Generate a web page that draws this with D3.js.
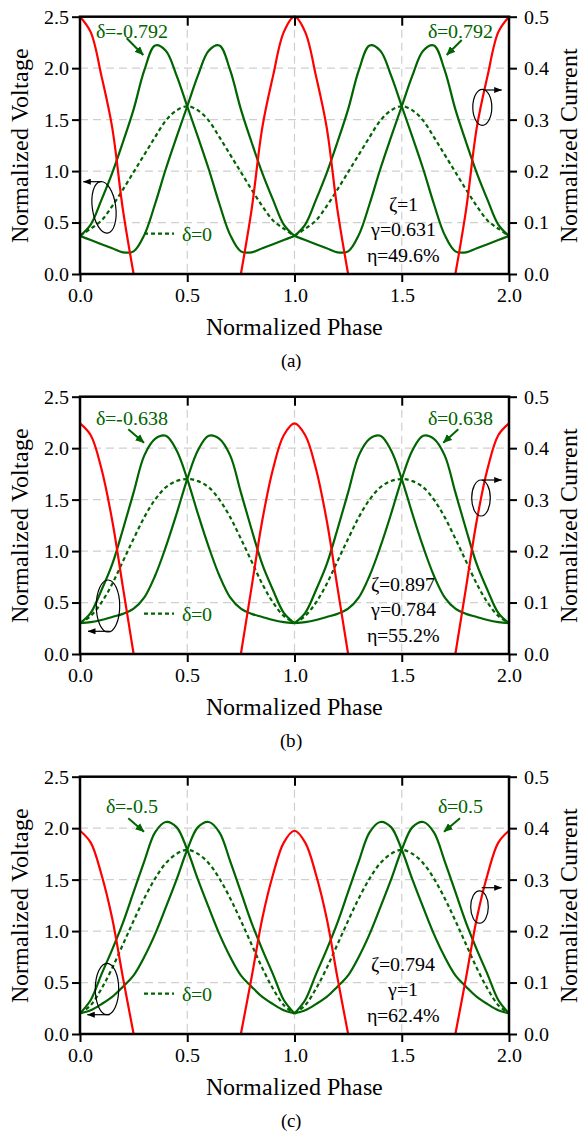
<!DOCTYPE html>
<html><head><meta charset="utf-8">
<script src="https://cdn.jsdelivr.net/npm/d3@7"></script>
<style>
@font-face{font-family:"RefSerif";src:local("Liberation Serif"),local("LiberationSerif"),local("LiberationSerif-Regular"),local("Times New Roman"),local("TimesNewRomanPSMT"),local("Tinos"),local("Tinos-Regular"),local("DejaVu Serif"),local("DejaVuSerif"),local("Noto Serif"),local("NotoSerif-Regular"),local("FreeSerif"),local("Nimbus Roman"),local("NimbusRoman-Regular");}
body{margin:0;background:#fff}
svg text{font-family:"RefSerif","Liberation Serif","Tinos","Times New Roman",Times,"Nimbus Roman","DejaVu Serif","Noto Serif","FreeSerif",serif}
</style>
</head><body>
<svg id="c" width="583" height="1134"></svg>
<script>
// ---------- DATA ----------
const phase = [0,0.05,0.1,0.15,0.2,0.25,0.3,0.35,0.4,0.45,0.5,0.55,0.6,0.65,0.7,0.75,0.8,0.85,0.9,0.95,1,
               1.05,1.1,1.15,1.2,1.25,1.3,1.35,1.4,1.45,1.5,1.55,1.6,1.65,1.7,1.75,1.8,1.85,1.9,1.95,2];
const xTicks = [0,0.5,1,1.5,2];
const vTicks = [0,0.5,1,1.5,2,2.5];
const iTicks = [0,0.1,0.2,0.3,0.4,0.5];
const topTicks = [0.5,1,1.5];
const panelLabels = ["(a)","(b)","(c)"];
const deltaNegLabels = ["δ=-0.792","δ=-0.638","δ=-0.5"];
const deltaPosLabels = ["δ=0.792","δ=0.638","δ=0.5"];
const deltaZeroLabel = "δ=0";
const paramLabels = [["ζ=1","γ=0.631","η=49.6%"],["ζ=0.897","γ=0.784","η=55.2%"],["ζ=0.794","γ=1","η=62.4%"]];

// panel (a)
const vNegA  = [0.37,0.48,0.72,0.98,1.28,1.60,1.98,2.22,2.17,1.93,1.63,1.33,1.02,0.68,0.38,0.22,0.21,0.25,0.29,0.33,0.37,
                0.48,0.72,0.98,1.28,1.60,1.98,2.22,2.17,1.93,1.63,1.33,1.02,0.68,0.38,0.22,0.21,0.25,0.29,0.33,0.37];
const vPosA  = [0.37,0.33,0.29,0.25,0.21,0.22,0.38,0.68,1.02,1.33,1.63,1.93,2.17,2.22,1.98,1.60,1.28,0.98,0.72,0.48,0.37,
                0.33,0.29,0.25,0.21,0.22,0.38,0.68,1.02,1.33,1.63,1.93,2.17,2.22,1.98,1.60,1.28,0.98,0.72,0.48,0.37];
const vZeroA = [0.37,0.44,0.52,0.66,0.82,0.99,1.16,1.33,1.49,1.59,1.63,1.59,1.49,1.33,1.16,0.99,0.82,0.66,0.52,0.44,0.37,
                0.44,0.52,0.66,0.82,0.99,1.16,1.33,1.49,1.59,1.63,1.59,1.49,1.33,1.16,0.99,0.82,0.66,0.52,0.44,0.37];
const curA   = [0.50,0.47,0.385,0.285,0.125,0,0,0,0,0,0,0,0,0,0,0,0.125,0.285,0.385,0.47,0.50,
                0.47,0.385,0.285,0.125,0,0,0,0,0,0,0,0,0,0,0,0.125,0.285,0.385,0.47,0.50];
// panel (b)
const vNegB  = [0.30,0.40,0.62,0.87,1.21,1.57,1.93,2.09,2.12,1.98,1.70,1.36,1.04,0.76,0.55,0.44,0.39,0.36,0.33,0.31,0.30,
                0.40,0.62,0.87,1.21,1.57,1.93,2.09,2.12,1.98,1.70,1.36,1.04,0.76,0.55,0.44,0.39,0.36,0.33,0.31,0.30];
const vPosB  = [0.30,0.31,0.33,0.36,0.39,0.44,0.55,0.76,1.04,1.36,1.70,1.98,2.12,2.09,1.93,1.57,1.21,0.87,0.62,0.40,0.30,
                0.31,0.33,0.36,0.39,0.44,0.55,0.76,1.04,1.36,1.70,1.98,2.12,2.09,1.93,1.57,1.21,0.87,0.62,0.40,0.30];
const vZeroB = [0.30,0.37,0.50,0.68,0.90,1.12,1.33,1.50,1.62,1.68,1.70,1.68,1.62,1.50,1.33,1.12,0.90,0.68,0.50,0.37,0.30,
                0.37,0.50,0.68,0.90,1.12,1.33,1.50,1.62,1.68,1.70,1.68,1.62,1.50,1.33,1.12,0.90,0.68,0.50,0.37,0.30];
const curB   = [0.448,0.425,0.36,0.26,0.13,0,0,0,0,0,0,0,0,0,0,0,0.13,0.26,0.36,0.425,0.448,
                0.425,0.36,0.26,0.13,0,0,0,0,0,0,0,0,0,0,0,0.13,0.26,0.36,0.425,0.448];
// panel (c)
const vNegC  = [0.20,0.33,0.58,0.82,1.08,1.38,1.68,1.96,2.06,2.01,1.79,1.50,1.23,0.97,0.75,0.57,0.46,0.36,0.29,0.23,0.20,
                0.33,0.58,0.82,1.08,1.38,1.68,1.96,2.06,2.01,1.79,1.50,1.23,0.97,0.75,0.57,0.46,0.36,0.29,0.23,0.20];
const vPosC  = [0.20,0.23,0.29,0.36,0.46,0.57,0.75,0.97,1.23,1.50,1.79,2.01,2.06,1.96,1.68,1.38,1.08,0.82,0.58,0.33,0.20,
                0.23,0.29,0.36,0.46,0.57,0.75,0.97,1.23,1.50,1.79,2.01,2.06,1.96,1.68,1.38,1.08,0.82,0.58,0.33,0.20];
const vZeroC = [0.20,0.28,0.44,0.64,0.87,1.10,1.32,1.51,1.66,1.75,1.79,1.75,1.66,1.51,1.32,1.10,0.87,0.64,0.44,0.28,0.20,
                0.28,0.44,0.64,0.87,1.10,1.32,1.51,1.66,1.75,1.79,1.75,1.66,1.51,1.32,1.10,0.87,0.64,0.44,0.28,0.20];
const curC   = [0.395,0.372,0.31,0.225,0.11,0,0,0,0,0,0,0,0,0,0,0,0.11,0.225,0.31,0.372,0.395,
                0.372,0.31,0.225,0.11,0,0,0,0,0,0,0,0,0,0,0,0.11,0.225,0.31,0.372,0.395];

const greenBreaks = [1];
const redBreaks = [0.25,0.75,1.25,1.75];

// ---------- LAYOUT ----------
const FONT = '"RefSerif","Liberation Serif","Tinos","Times New Roman",Times,"Nimbus Roman","DejaVu Serif","Noto Serif",serif';
const GREEN = "#006400", RED = "#ff0000";
const X0 = 80, X1 = 509, PH = 257.3;
const panelTops = [16.7, 396.7, 776.7];
const layouts = [
  {lbl:21.3, neg:[126.7,21.6,143.3,38.3], pos:[461.7,23.3,446.7,38.3],
   le:[104,190.6,11.7,26,-8], la:[101.7,165,83.3], re:[482.3,90.6,9.5,18], ra:[483.3,73.3,501.7]},
  {lbl:28.3, neg:[128.3,32.6,144,46], pos:[458.3,32.6,443.3,46],
   le:[108,209.3,11.7,26,0], la:[109.7,234.6,88], re:[481,101.3,9.3,18], ra:[481.7,83.3,501.7]},
  {lbl:36.6, neg:[128.3,41.6,144,55], pos:[460,41.6,444,55],
   le:[107,212.3,11.7,25.7,0], la:[109.7,238,87.3], re:[479.5,130.3,8.8,16.2], ra:[481.7,111,501.7]}
];
const panels = [
  {neg:vNegA,pos:vPosA,zero:vZeroA,cur:curA},
  {neg:vNegB,pos:vPosB,zero:vZeroB,cur:curB},
  {neg:vNegC,pos:vPosC,zero:vZeroC,cur:curC}
];

const svg = d3.select("#c");
const defs = svg.append("defs");
function marker(id,color,len,wid){
  defs.append("marker").attr("id",id).attr("viewBox",`0 0 ${len} ${wid}`)
    .attr("refX",len-0.5).attr("refY",wid/2).attr("markerWidth",len).attr("markerHeight",wid)
    .attr("markerUnits","userSpaceOnUse").attr("orient","auto")
    .append("path").attr("d",`M0,0L${len},${wid/2}L0,${wid}Z`).attr("fill",color);
}
marker("ag",GREEN,9,8);
marker("ak","#000",8,6);

function pieces(ys, breaks){
  const out=[]; let cur=[];
  phase.forEach((t,i)=>{
    cur.push([t,ys[i]]);
    if(breaks.some(b=>Math.abs(b-t)<1e-9) && cur.length>1){ out.push(cur); cur=[[t,ys[i]]]; }
  });
  if(cur.length>1) out.push(cur);
  return out;
}

function styleAxis(sel){
  sel.attr("font-family",null);
  sel.select(".domain").remove();
  sel.selectAll("line").attr("stroke","#000").attr("stroke-width",2);
  sel.selectAll("text").style("font-family",FONT).attr("font-size",20).attr("fill","#000");
}

panels.forEach((p,k)=>{
  const top = panelTops[k], bot = top+PH, L = layouts[k];
  const x = d3.scaleLinear().domain([0,2]).range([X0,X1]);
  const yv = d3.scaleLinear().domain([0,2.5]).range([bot,top]);
  const yi = d3.scaleLinear().domain([0,0.5]).range([bot,top]);
  const g = svg.append("g");

  // grid
  g.selectAll(".gx").data(topTicks).join("line")
    .attr("x1",d=>x(d)).attr("x2",d=>x(d)).attr("y1",top).attr("y2",bot)
    .attr("stroke","#cfcfcf").attr("stroke-width",1.2).attr("stroke-dasharray","8,5");
  g.selectAll(".gy").data(vTicks.slice(1,-1)).join("line")
    .attr("x1",X0).attr("x2",X1).attr("y1",d=>yv(d)).attr("y2",d=>yv(d))
    .attr("stroke","#cfcfcf").attr("stroke-width",1.2).attr("stroke-dasharray","8,5");

  const lineV = d3.line().x(d=>x(d[0])).y(d=>yv(d[1])).curve(d3.curveCatmullRom.alpha(0.5));
  const lineI = d3.line().x(d=>x(d[0])).y(d=>yi(d[1])).curve(d3.curveCatmullRom.alpha(0.5));

  [["zero","4,3"],["neg",null],["pos",null]].forEach(([key,dash])=>{
    pieces(p[key],greenBreaks).forEach(seg=>{
      g.append("path").attr("d",lineV(seg)).attr("fill","none").attr("stroke",GREEN)
        .attr("stroke-width",2.2).attr("stroke-dasharray",dash);
    });
  });
  pieces(p.cur,redBreaks).forEach(seg=>{
    g.append("path").attr("d",lineI(seg)).attr("fill","none").attr("stroke",RED).attr("stroke-width",2.2);
  });

  // frame
  g.append("rect").attr("x",X0).attr("y",top).attr("width",X1-X0).attr("height",PH)
    .attr("fill","none").attr("stroke","#000").attr("stroke-width",2.5);

  // axes
  g.append("g").attr("transform",`translate(${X0},0)`)
    .call(d3.axisLeft(yv).tickValues(vTicks).tickFormat(d3.format(".1f")).tickSize(8).tickPadding(3)).call(styleAxis);
  g.append("g").attr("transform",`translate(${X1},0)`)
    .call(d3.axisRight(yi).tickValues(iTicks).tickFormat(d3.format(".1f")).tickSize(8).tickPadding(7)).call(styleAxis);
  g.append("g").attr("transform",`translate(0,${bot})`)
    .call(d3.axisBottom(x).tickValues(xTicks).tickFormat(d3.format(".1f")).tickSize(8).tickPadding(6)).call(styleAxis);
  g.append("g").attr("transform",`translate(0,${top})`)
    .call(d3.axisTop(x).tickValues(topTicks).tickFormat("").tickSize(-9)).call(styleAxis);

  // titles
  g.append("text").attr("x",(X0+X1)/2).attr("y",bot+61).attr("text-anchor","middle")
    .attr("font-size",24).text("Normalized Phase");
  g.append("text").attr("transform",`translate(28,${(top+bot)/2}) rotate(-90)`).attr("text-anchor","middle")
    .attr("font-size",24).text("Normalized Voltage");
  g.append("text").attr("transform",`translate(577,${(top+bot)/2}) rotate(-90)`).attr("text-anchor","middle")
    .attr("font-size",24).text("Normalized Current");
  g.append("text").attr("x",291).attr("y",bot+93).attr("text-anchor","middle")
    .attr("font-size",19).text(panelLabels[k]);

  // delta labels + arrows
  g.append("text").attr("x",132).attr("y",top+L.lbl).attr("text-anchor","middle")
    .attr("font-size",20).attr("fill",GREEN).text(deltaNegLabels[k]);
  g.append("text").attr("x",460).attr("y",top+L.lbl).attr("text-anchor","middle")
    .attr("font-size",20).attr("fill",GREEN).text(deltaPosLabels[k]);
  [L.neg,L.pos].forEach(a=>{
    g.append("line").attr("x1",a[0]).attr("y1",top+a[1]).attr("x2",a[2]).attr("y2",top+a[3])
      .attr("stroke",GREEN).attr("stroke-width",2).attr("marker-end","url(#ag)");
  });
  // delta=0 legend
  g.append("line").attr("x1",144).attr("x2",174).attr("y1",top+217).attr("y2",top+217)
    .attr("stroke",GREEN).attr("stroke-width",2.2).attr("stroke-dasharray","4,3");
  g.append("text").attr("x",182).attr("y",top+224.5).attr("font-size",20).attr("fill",GREEN).text(deltaZeroLabel);

  // ellipses with arrows
  g.append("ellipse").attr("cx",0).attr("cy",0).attr("rx",L.le[2]).attr("ry",L.le[3])
    .attr("transform",`translate(${L.le[0]},${top+L.le[1]}) rotate(${L.le[4]})`)
    .attr("fill","none").attr("stroke","#000").attr("stroke-width",1.2);
  g.append("line").attr("x1",L.la[0]).attr("y1",top+L.la[1]).attr("x2",L.la[2]).attr("y2",top+L.la[1])
    .attr("stroke","#000").attr("stroke-width",1.2).attr("marker-end","url(#ak)");
  g.append("ellipse").attr("cx",L.re[0]).attr("cy",top+L.re[1]).attr("rx",L.re[2]).attr("ry",L.re[3])
    .attr("fill","none").attr("stroke","#000").attr("stroke-width",1.2);
  g.append("line").attr("x1",L.ra[0]).attr("y1",top+L.ra[1]).attr("x2",L.ra[2]).attr("y2",top+L.ra[1])
    .attr("stroke","#000").attr("stroke-width",1.2).attr("marker-end","url(#ak)");

  // parameters
  paramLabels[k].forEach((t,j)=>{
    g.append("text").attr("x",403).attr("y",top+194+j*25.7).attr("text-anchor","middle")
      .attr("font-size",20).attr("fill","#000").text(t);
  });
});
</script>
</body></html>
